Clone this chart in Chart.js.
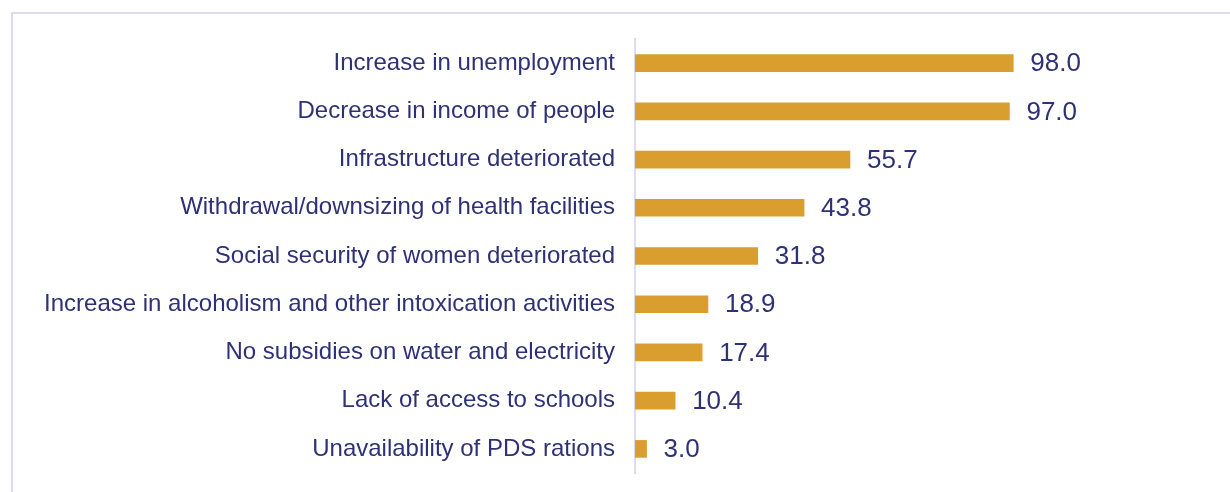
<!DOCTYPE html>
<html>
<head>
<meta charset="utf-8">
<script src="https://cdn.jsdelivr.net/npm/chart.js@4"></script>
<style>
  html, body { margin: 0; padding: 0; background: #fff; }
  #wrap { position: relative; width: 1230px; height: 492px; }
  #frame { position: absolute; left: 11px; top: 12px; right: -2px; bottom: -2px;
           border-left: 2px solid #DCDCF0; border-top: 2px solid #DCDCF0; }
  canvas { position: absolute; left: 0; top: 0; }
</style>
</head>
<body>
<div id="wrap">
  <div id="frame"></div>
  <canvas id="impactChart" width="1230" height="492"></canvas>
</div>
<script>
// Perceived impacts (% of respondents)
const categories = [
  'Increase in unemployment',
  'Decrease in income of people',
  'Infrastructure deteriorated',
  'Withdrawal/downsizing of health facilities',
  'Social security of women deteriorated',
  'Increase in alcoholism and other intoxication activities',
  'No subsidies on water and electricity',
  'Lack of access to schools',
  'Unavailability of PDS rations'
];
const values = [98.0, 97.0, 55.7, 43.8, 31.8, 18.9, 17.4, 10.4, 3.0];

const navy = '#2E3175';
const gold = '#DA9E2E';

// value labels at the end of each bar
const valueLabels = {
  id: 'valueLabels',
  afterDatasetsDraw(chart) {
    const c = chart.ctx;
    const meta = chart.getDatasetMeta(0);
    c.save();
    c.fillStyle = navy;
    c.font = '26px "Liberation Sans", Arial, sans-serif';
    c.textBaseline = 'middle';
    c.textAlign = 'left';
    meta.data.forEach((bar, i) => {
      c.fillText(values[i].toFixed(1), bar.x + 17, bar.y + 1);
    });
    c.restore();
  }
};

new Chart(document.getElementById('impactChart'), {
  type: 'bar',
  data: {
    labels: categories,
    datasets: [{
      data: values,
      backgroundColor: gold,
      barThickness: 17
    }]
  },
  options: {
    indexAxis: 'y',
    responsive: false,
    animation: false,
    layout: { padding: { top: 39, bottom: 19, right: 209, left: 0 } },
    plugins: { legend: { display: false }, tooltip: { enabled: false } },
    scales: {
      x: { display: false, min: 0, max: 100 },
      y: {
        afterFit(scale) {
          scale.width = 635;
          scale.paddingTop = 0;
          scale.paddingBottom = 0;
        },
        grid: { display: false, drawTicks: false },
        border: { display: true, color: '#DCDCF0', width: 2 },
        ticks: {
          color: navy,
          padding: 20,
          font: { family: '"Liberation Sans", Arial, sans-serif', size: 24, lineHeight: 1 }
        }
      }
    }
  },
  plugins: [valueLabels]
});
</script>
</body>
</html>
